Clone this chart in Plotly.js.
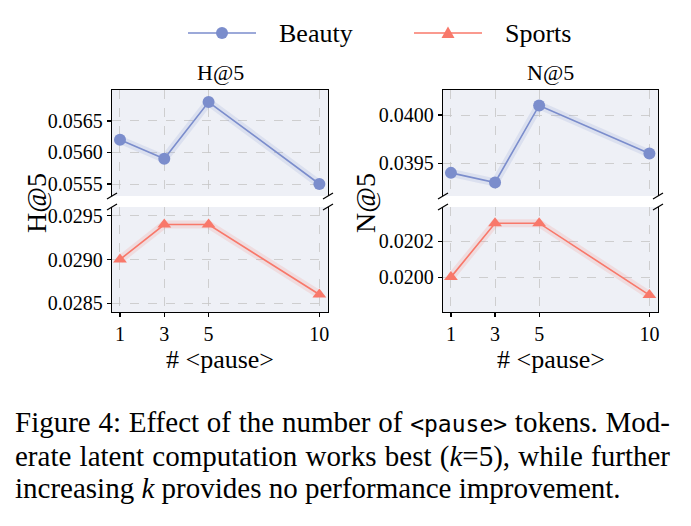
<!DOCTYPE html>
<html>
<head>
<meta charset="utf-8">
<script src="https://cdn.plot.ly/plotly-3.0.1.min.js"></script>
<style>
  html, body { margin: 0; padding: 0; background: #fff; }
  #wrap { position: relative; width: 691px; height: 526px; }
  #chart { position: absolute; left: 0; top: 0; width: 691px; height: 526px; }
  #caption { position: absolute; left: 15px; top: 406px; width: 655px;
    font-family: 'Liberation Serif', serif; font-size: 29px;
    line-height: 32px; color: #000; }
  #caption .j { text-align: justify; text-align-last: justify; white-space: nowrap; }
  #caption .mono { font-family: 'DejaVu Sans Mono', monospace; font-size: 23px; }
</style>
</head>
<body>
<div id="wrap">
  <div id="chart"></div>
  <div id="caption">
    <div class="j">Figure 4: Effect of the number of <span class="mono">&lt;pause&gt;</span> tokens. Mod-</div>
    <div class="j">erate latent computation works best (<i>k</i>=5), while further</div>
    <div>increasing <i>k</i> provides no performance improvement.</div>
  </div>
</div>
<script>
// ---- data ----
const pauses = [1, 3, 5, 10];
const xTickLabels = ['1', '3', '5', '10'];
const beautyH = [0.0562, 0.0559, 0.0568, 0.0555];
const sportsH = [0.0290, 0.0294, 0.0294, 0.0286];
const beautyN = [0.0394, 0.0393, 0.0401, 0.0396];
const sportsN = [0.0200, 0.0203, 0.0203, 0.0199];
const seriesNames = ['Beauty', 'Sports'];
const panelTitles = ['H@5', 'N@5'];
const xTitle = '# &lt;pause&gt;';

// ---- style ----
const W = 691, H = 526;
const FONT = 'Liberation Serif, serif';
const cBeauty = '#7b8dcc';
const cSports = '#f8786a';
const bandBeauty = 'rgba(123,141,204,0.16)';
const bandSports = 'rgba(248,120,106,0.16)';
const bg = '#eef0f6';
const gridC = '#c6c6c6';

const px = v => v / W;
const py = v => 1 - v / H;
const xL = [px(112), px(328)];
const xR = [px(443), px(658)];
const yTop = [py(196), py(90)];
const yBot = [py(312), py(207)];
const xRange = [0.64, 10.39];

function pair(x, y, color, band, symbol, xa, ya) {
  return [
    {x: x, y: y, xaxis: xa, yaxis: ya, mode: 'lines', type: 'scatter',
     line: {color: band, width: 8}, hoverinfo: 'skip', showlegend: false},
    {x: x, y: y, xaxis: xa, yaxis: ya, mode: 'lines+markers', type: 'scatter',
     line: {color: color, width: 1.6},
     marker: {symbol: symbol, size: 12, color: color, line: {width: 0}},
     showlegend: false}
  ];
}

const data = [].concat(
  pair(pauses, sportsH, cSports, bandSports, 'triangle-up', 'x', 'y'),
  pair(pauses, beautyH, cBeauty, bandBeauty, 'circle', 'x2', 'y2'),
  pair(pauses, sportsN, cSports, bandSports, 'triangle-up', 'x3', 'y3'),
  pair(pauses, beautyN, cBeauty, bandBeauty, 'circle', 'x4', 'y4')
);

const tickFont = {family: FONT, size: 20, color: '#000'};
function xBottom(domain, anchor) {
  return {domain: domain, anchor: anchor, range: xRange, tickvals: pauses, ticktext: xTickLabels,
    showline: true, linecolor: '#000', linewidth: 1.2, ticks: 'outside', ticklen: 4, tickwidth: 1.2,
    tickcolor: '#000', tickfont: tickFont, showgrid: true, gridcolor: gridC, griddash: 'dash',
    gridwidth: 0.8, zeroline: false, fixedrange: true};
}
function xTopAx(domain, anchor) {
  return {domain: domain, anchor: anchor, range: xRange, tickvals: pauses, side: 'top',
    showline: true, linecolor: '#000', linewidth: 1.2, ticks: '', showticklabels: false,
    showgrid: true, gridcolor: gridC, griddash: 'dash', gridwidth: 0.8, zeroline: false, fixedrange: true};
}
function yAx(domain, anchor, range, dtick, tick0) {
  return {domain: domain, anchor: anchor, range: range, dtick: dtick, tick0: tick0, tickformat: '.4f',
    showline: true, mirror: true, linecolor: '#000', linewidth: 1.2, ticks: 'outside', ticklen: 4,
    tickwidth: 1.2, tickcolor: '#000', tickfont: tickFont, showgrid: true, gridcolor: gridC,
    griddash: 'dash', gridwidth: 0.8, zeroline: false, fixedrange: true};
}

// break marks
function brk(x, y) {
  return {type: 'line', xref: 'paper', yref: 'paper', xsizemode: 'pixel', ysizemode: 'pixel',
    xanchor: x, yanchor: y, x0: -5, x1: 5, y0: -3, y1: 3, line: {color: '#000', width: 1.2}};
}
const shapes = [];
[xL, xR].forEach(xd => {
  xd.forEach(xx => {
    shapes.push(brk(xx, yTop[0]));
    shapes.push(brk(xx, yBot[1]));
  });
});
// legend key
const legY = py(33);
shapes.push({type: 'line', xref: 'paper', yref: 'paper', x0: px(188), x1: px(256), y0: legY, y1: legY,
  line: {color: cBeauty, width: 1.6}});
shapes.push({type: 'circle', xref: 'paper', yref: 'paper', xsizemode: 'pixel', ysizemode: 'pixel',
  xanchor: px(222), yanchor: legY, x0: -6, x1: 6, y0: -6, y1: 6, fillcolor: cBeauty, line: {width: 0}});
shapes.push({type: 'line', xref: 'paper', yref: 'paper', x0: px(414), x1: px(482), y0: legY, y1: legY,
  line: {color: cSports, width: 1.6}});
shapes.push({type: 'path', xref: 'paper', yref: 'paper', xsizemode: 'pixel', ysizemode: 'pixel',
  xanchor: px(448), yanchor: legY, path: 'M -6.5 -5 L 6.5 -5 L 0 6.5 Z', fillcolor: cSports, line: {width: 0}});

const annFont = s => ({family: FONT, size: s, color: '#000'});
const annotations = [
  {text: seriesNames[0], xref: 'paper', yref: 'paper', x: px(277), y: legY, xanchor: 'left', yanchor: 'middle', showarrow: false, font: annFont(26)},
  {text: seriesNames[1], xref: 'paper', yref: 'paper', x: px(503), y: legY, xanchor: 'left', yanchor: 'middle', showarrow: false, font: annFont(26)},
  {text: panelTitles[0], xref: 'paper', yref: 'paper', x: (xL[0] + xL[1]) / 2, y: yTop[1], xanchor: 'center', yanchor: 'bottom', yshift: 3, showarrow: false, font: annFont(22)},
  {text: panelTitles[1], xref: 'paper', yref: 'paper', x: (xR[0] + xR[1]) / 2, y: yTop[1], xanchor: 'center', yanchor: 'bottom', yshift: 3, showarrow: false, font: annFont(22)},
  {text: xTitle, xref: 'paper', yref: 'paper', x: (xL[0] + xL[1]) / 2, y: yBot[0], xanchor: 'center', yanchor: 'top', yshift: -31, showarrow: false, font: annFont(26)},
  {text: xTitle, xref: 'paper', yref: 'paper', x: (xR[0] + xR[1]) / 2, y: yBot[0], xanchor: 'center', yanchor: 'top', yshift: -31, showarrow: false, font: annFont(26)},
  {text: panelTitles[0], xref: 'paper', yref: 'paper', x: px(36), y: py(203), xanchor: 'center', yanchor: 'middle', textangle: -90, showarrow: false, font: annFont(28)},
  {text: panelTitles[1], xref: 'paper', yref: 'paper', x: px(365), y: py(203), xanchor: 'center', yanchor: 'middle', textangle: -90, showarrow: false, font: annFont(28)}
];

const layout = {
  width: W, height: H, margin: {l: 0, r: 0, t: 0, b: 0},
  paper_bgcolor: 'rgba(0,0,0,0)', plot_bgcolor: bg, showlegend: false,
  font: {family: FONT, color: '#000'},
  xaxis: xBottom(xL, 'y'),
  yaxis: yAx(yBot, 'x', [0.02840, 0.02960], 0.0005, 0.0285),
  xaxis2: xTopAx(xL, 'y2'),
  yaxis2: yAx(yTop, 'x2', [0.05531, 0.05699], 0.0005, 0.0555),
  xaxis3: xBottom(xR, 'y3'),
  yaxis3: yAx(yBot, 'x3', [0.019806, 0.020390], 0.0002, 0.0200),
  xaxis4: xTopAx(xR, 'y4'),
  yaxis4: yAx(yTop, 'x4', [0.03916, 0.04026], 0.0005, 0.0395),
  shapes: shapes, annotations: annotations
};

Plotly.newPlot('chart', data, layout, {staticPlot: true, displayModeBar: false});
</script>
</body>
</html>
